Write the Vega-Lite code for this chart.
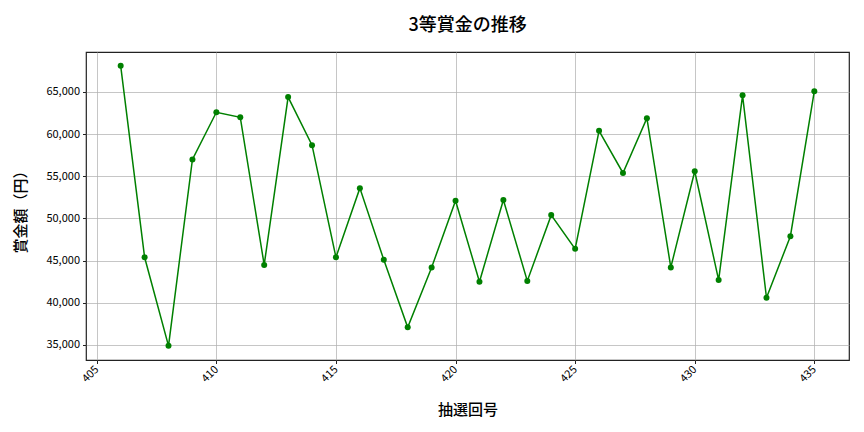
{
  "$schema": "https://vega.github.io/schema/vega-lite/v6.json",
  "autosize": {"type": "none"},
  "width": 763,
  "height": 308,
  "padding": {"left": 86, "top": 52, "right": 15, "bottom": 72},
  "background": "white",
  "title": {
    "text": "3等賞金の推移",
    "font": "Noto Sans CJK JP",
    "fontSize": 18,
    "fontWeight": 500,
    "color": "#000000",
    "anchor": "middle",
    "offset": 17
  },
  "config": {
    "view": {"stroke": "#222222", "strokeWidth": 1.2},
    "axis": {
      "labelFont": "Noto Sans CJK JP",
      "labelFontSize": 11,
      "labelColor": "#000000",
      "titleFont": "Noto Sans CJK JP",
      "titleFontSize": 15,
      "titleFontWeight": 500,
      "titleColor": "#000000",
      "domain": false,
      "tickColor": "#222222",
      "tickSize": 3.5,
      "gridColor": "#b0b0b0",
      "gridWidth": 0.8,
      "gridOpacity": 0.9
    }
  },
  "data": {
    "values": [
      {"draw": 406, "prize": 68100},
      {"draw": 407, "prize": 45400},
      {"draw": 408, "prize": 34900},
      {"draw": 409, "prize": 57000},
      {"draw": 410, "prize": 62600},
      {"draw": 411, "prize": 62000},
      {"draw": 412, "prize": 44500},
      {"draw": 413, "prize": 64400},
      {"draw": 414, "prize": 58700},
      {"draw": 415, "prize": 45400},
      {"draw": 416, "prize": 53600},
      {"draw": 417, "prize": 45100},
      {"draw": 418, "prize": 37100},
      {"draw": 419, "prize": 44200},
      {"draw": 420, "prize": 52100},
      {"draw": 421, "prize": 42500},
      {"draw": 422, "prize": 52200},
      {"draw": 423, "prize": 42600},
      {"draw": 424, "prize": 50400},
      {"draw": 425, "prize": 46400},
      {"draw": 426, "prize": 60400},
      {"draw": 427, "prize": 55400},
      {"draw": 428, "prize": 61900},
      {"draw": 429, "prize": 44200},
      {"draw": 430, "prize": 55600},
      {"draw": 431, "prize": 42700},
      {"draw": 432, "prize": 64600},
      {"draw": 433, "prize": 40600},
      {"draw": 434, "prize": 47900},
      {"draw": 435, "prize": 65100}
    ]
  },
  "encoding": {
    "x": {
      "field": "draw",
      "type": "quantitative",
      "title": "抽選回号",
      "scale": {"domain": [404.55, 436.45], "nice": false, "zero": false},
      "axis": {
        "values": [405, 410, 415, 420, 425, 430, 435],
        "format": "d",
        "labelAngle": -45,
        "labelAlign": "right",
        "labelBaseline": "middle",
        "labelPadding": 4,
        "titleY": 49,
        "titleBaseline": "middle"
      }
    },
    "y": {
      "field": "prize",
      "type": "quantitative",
      "title": "賞金額（円）",
      "scale": {"domain": [33220, 69743], "nice": false, "zero": false},
      "axis": {
        "values": [35000, 40000, 45000, 50000, 55000, 60000, 65000],
        "format": ",d",
        "labelPadding": 3,
        "titleX": -66,
        "titleY": 156,
        "titleAngle": -90,
        "titleAlign": "center",
        "titleBaseline": "middle"
      }
    }
  },
  "layer": [
    {"mark": {"type": "line", "color": "#008000", "strokeWidth": 1.5}},
    {"mark": {"type": "circle", "color": "#008000", "opacity": 1, "size": 36}}
  ]
}
